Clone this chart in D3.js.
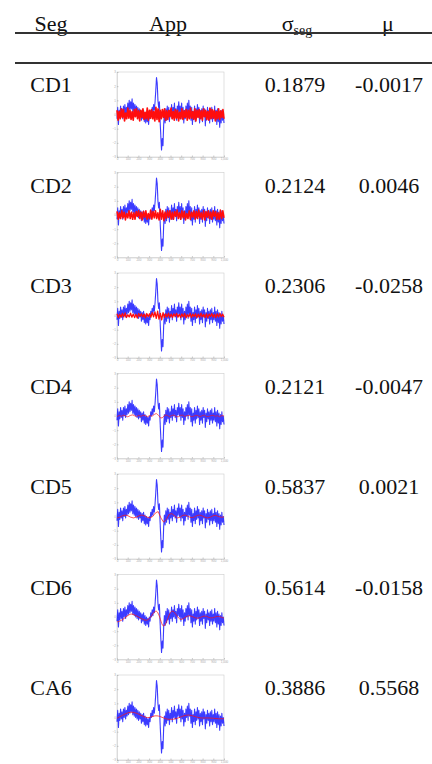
<!DOCTYPE html>
<html>
<head>
<meta charset="utf-8">
<script src="https://cdn.jsdelivr.net/npm/d3@7"></script>
<style>
  body { margin: 0; background: #fff; }
  svg { display: block; }
</style>
</head>
<body>
<div id="chart"></div>
<script>
const segs = ["CD1", "CD2", "CD3", "CD4", "CD5", "CD6", "CA6"];
const sigmas = [0.1879, 0.2124, 0.2306, 0.2121, 0.5837, 0.5614, 0.3886];
const mus = [-0.0017, 0.0046, -0.0258, -0.0047, 0.0021, -0.0158, 0.5568];

// original signal (blue), same in every thumbnail
const signal = [-0.3, 0.5, -0.7, 0.3, -0.2, 0.6, -0.1, 0.4, -0.3, 0.6, 0.0, 0.7, -0.1, 0.5, 0.1,
  0.8, 0.2, 1.0, 0.3, 0.9, 0.4, 1.1, 0.2, 0.8, 0.1, 0.7, 0.0, 0.6, -0.1,
  0.5, -0.2, 0.4, -0.1, 0.3, -0.4, 0.2, -0.3, 0.3, -0.5, 0.1, -0.6, 0.0, -0.5, -0.1, -0.7, 0.0,
  -0.3, 0.3, 0.0, 0.5, 0.1, 0.7, 0.3, 0.9,
  1.7, 2.6, 2.2, 1.0, 0.5, 0.9, -0.4, -1.5, -2.5, -1.7, -2.2, -0.7, 0.1, -0.6,
  0.4, -0.4, 0.6, -0.2, 0.5, -0.5, 0.3, -0.1, 0.7, -0.3,
  0.5, 0.0, 0.8, -0.1, 0.4, -0.4, 0.6, 0.1, 0.9, 0.0,
  0.6, -0.3, 0.8, -0.1, 0.5, -0.6, 0.3, -0.3, 0.6, 0.0,
  0.8, -0.2, 1.0, 0.1, 0.6, -0.4, 0.5, -0.7, 0.2, -0.3,
  0.6, -0.5, 0.4, -0.2, 0.7, -0.1, 0.5, -0.6, 0.3, -0.3,
  0.4, -0.5, 0.6, -0.1, 0.4, -0.8, 0.2, -0.4, 0.5, -0.2,
  0.3, -0.6, 0.4, -0.3, 0.5, -0.5, 0.2, -0.3, 0.6, -0.4,
  0.3, -0.7, 0.4, -0.5, 0.2, -0.9, 0.1, -0.6, 0.3, -0.4,
  0.0, -0.6];

// reconstructed components (red)
const cd1 = [0.3, -0.4, 0.2, -0.3, 0.4, -0.2, 0.35, -0.45, 0.1, -0.3, 0.45, -0.25, 0.3, -0.35, 0.2, -0.4,
  0.35, -0.15, 0.4, -0.3, 0.25, -0.45, 0.3, -0.2, 0.4, -0.35, 0.15, -0.3, 0.45, -0.4, 0.3, -0.25,
  0.35, -0.3, 0.2, -0.45, 0.5, -0.35, 0.4, -0.5, 0.3, -0.3, 0.35, -0.2, 0.4, -0.4, 0.25, -0.35,
  0.3, -0.15, 0.45, -0.3, 0.2, -0.4, 0.35, -0.25, 0.3, -0.45, 0.15, -0.3, 0.4, -0.35, 0.25, -0.2,
  0.35, -0.4, 0.3, -0.3, 0.45, -0.25, 0.2, -0.35, 0.4, -0.45, 0.3, -0.2, 0.35, -0.3, 0.25, -0.4,
  0.4, -0.15, 0.3, -0.35, 0.2, -0.4, 0.45, -0.3, 0.35, -0.25, 0.3, -0.45, 0.2, -0.3, 0.4, -0.35,
  0.25, -0.2, 0.35, -0.3];
const cd2 = [0.25, -0.3, 0.15, -0.25, 0.3, -0.2, 0.2, -0.35, 0.1, -0.2, 0.3, -0.25, 0.2, -0.3, 0.15,
  -0.3, 0.25, -0.1, 0.3, -0.25, 0.2, -0.35, 0.25, -0.15, 0.3, -0.3, 0.1, -0.25, 0.35, -0.3, 0.25,
  -0.2, 0.3, -0.25, 0.15, -0.35, 0.4, -0.3, 0.3, -0.4, 0.2, -0.25, 0.3, -0.15, 0.3, -0.3, 0.2,
  -0.3, 0.25, -0.1, 0.35, -0.25, 0.15, -0.3, 0.3, -0.2, 0.25, -0.35, 0.1, -0.25, 0.3, -0.3, 0.2,
  -0.15, 0.3, -0.3, 0.25, -0.25, 0.35, -0.2, 0.15, -0.3, 0.3, -0.35, 0.25, -0.15, 0.3, -0.25,
  0.2, -0.3, 0.3, -0.1, 0.25, -0.3, 0.15, -0.3, 0.35, -0.25, 0.3, -0.2];
const cd3 = [0.12, -0.15, 0.08, -0.12, 0.15, -0.1, 0.18, -0.14, 0.05, -0.1, 0.16, -0.12, 0.1, -0.15,
  0.08, -0.18, 0.14, -0.06, 0.12, -0.1, 0.1, -0.16, 0.14, -0.08, 0.12, -0.12, 0.2, -0.1, 0.25,
  -0.2, 0.3, -0.25, 0.15, -0.3, 0.2, -0.15, 0.12, -0.1, 0.16, -0.12, 0.1, -0.14, 0.12, -0.06,
  0.15, -0.12, 0.08, -0.15, 0.12, -0.1, 0.14, -0.16, 0.06, -0.1, 0.15, -0.14, 0.1, -0.08, 0.12,
  -0.15, 0.1, -0.12, 0.16, -0.1, 0.08, -0.14, 0.12, -0.16, 0.1, -0.06, 0.14, -0.12, 0.08, -0.15,
  0.12, -0.1, 0.15, -0.08, 0.1, -0.12];
const cd4 = [-0.05, 0.04, -0.02, 0.06, 0.0, -0.06, 0.03, 0.08, 0.02, -0.04, 0.05, -0.03, 0.06, 0.02,
  -0.05, 0.04, -0.02, 0.1, 0.18, 0.05, -0.15, -0.1, 0.08, 0.04, -0.05, 0.03, 0.07, -0.02, -0.06,
  0.04, 0.06, -0.03, 0.02, 0.05, -0.04, -0.02, 0.05, 0.03, -0.05, 0.02, 0.06, -0.03, -0.04, 0.03,
  0.05, -0.02, 0.02, -0.05, 0.03, 0.0];
const cd5 = [-0.1, -0.05, 0.05, 0.1, 0.05, -0.05, -0.1, -0.05, 0.05, 0.1, 0.05, -0.05, -0.1, 0.0,
  0.25, 0.35, -0.1, -0.4, -0.2, 0.15, 0.2, 0.05, -0.1, -0.05, 0.08, 0.1, 0.0, -0.08, -0.05, 0.05,
  0.1, 0.05, -0.05, -0.1, -0.05, 0.05, 0.08, 0.0, -0.06, -0.02];
const cd6 = [-0.35, -0.3, -0.2, -0.05, 0.1, 0.22, 0.2, 0.1, 0.0, -0.1, -0.2, -0.25, -0.15, 0.1, 0.4,
  0.45, 0.0, -0.7, -0.6, -0.1, 0.4, 0.45, 0.2, -0.1, -0.2, -0.1, 0.05, 0.1, 0.05, -0.05, -0.1,
  -0.05, 0.05, 0.08, 0.0, -0.08, -0.05, 0.03, 0.05, -0.02, -0.08];
const ca6 = [-0.05, 0.15, 0.35, 0.4, 0.25, 0.05, -0.05, 0.15, 0.1, -0.1, -0.15, -0.1, 0.05, 0.2,
  0.15, 0.0, -0.05, -0.02, -0.05, -0.1, -0.08];

const components = [cd1, cd2, cd3, cd4, cd5, cd6, ca6];
const redWidths = [1.7, 1.6, 1.3, 0.8, 0.9, 0.9, 0.9];

const width = 432, height = 764;
const font = "'Liberation Serif', 'Times New Roman', serif";
const rowStep = 100.5;
const thumbW = 107, thumbH = 85;

const svg = d3.select("#chart").append("svg")
    .attr("width", width)
    .attr("height", height);

svg.append("defs").append("filter")
    .attr("id", "soft")
    .append("feGaussianBlur")
    .attr("stdDeviation", 0.35);

// header
const header = svg.append("g")
    .attr("font-family", font)
    .attr("font-size", 22)
    .attr("fill", "#111")
    .attr("text-anchor", "middle");

header.append("text").attr("x", 51).attr("y", 31).text("Seg");
header.append("text").attr("x", 168).attr("y", 31).text("App");
const sigHead = header.append("text").attr("x", 297).attr("y", 31);
sigHead.append("tspan").text("σ");
sigHead.append("tspan").attr("font-size", 14).attr("dy", 4).text("seg");
header.append("text").attr("x", 388).attr("y", 31).text("μ");

svg.selectAll("line.rule")
    .data([33, 63])
    .enter().append("line")
    .attr("class", "rule")
    .attr("x1", 15).attr("x2", width)
    .attr("y1", d => d).attr("y2", d => d)
    .attr("stroke", "#333")
    .attr("stroke-width", 1.8);

// thumbnail scales
const x = d3.scaleLinear().domain([0, 1000]).range([0, thumbW]);
const y = d3.scaleLinear().domain([-3, 3]).range([thumbH, 0]);

const rows = svg.selectAll("g.row")
    .data(segs)
    .enter().append("g")
    .attr("class", "row")
    .attr("transform", (d, i) => `translate(0,${i * rowStep})`);

const cells = rows.append("g")
    .attr("font-family", font)
    .attr("font-size", 22)
    .attr("fill", "#111")
    .attr("text-anchor", "middle");

cells.append("text").attr("x", 51).attr("y", 92).text(d => d);
cells.append("text").attr("x", 295).attr("y", 92).text((d, i) => sigmas[i].toFixed(4));
cells.append("text").attr("x", 389).attr("y", 92).text((d, i) => mus[i].toFixed(4));

rows.each(function (d, i) {
    const g = d3.select(this).append("g")
        .attr("transform", "translate(117,72)");

    g.append("rect")
        .attr("width", thumbW).attr("height", thumbH)
        .attr("fill", "#fff")
        .attr("stroke", "#ccc")
        .attr("stroke-width", 0.6);

    const xAxis = g.append("g")
        .attr("transform", `translate(0,${thumbH})`)
        .call(d3.axisBottom(x).ticks(10).tickSizeInner(-1.5).tickSizeOuter(0).tickPadding(1));
    const yAxis = g.append("g")
        .call(d3.axisLeft(y).ticks(6).tickSizeInner(-1.5).tickSizeOuter(0).tickPadding(1));

    [xAxis, yAxis].forEach(a => {
        a.select(".domain").attr("stroke", "#ccc").attr("stroke-width", 0.6);
        a.selectAll(".tick line").attr("stroke", "#999").attr("stroke-width", 0.5);
        a.selectAll(".tick text").attr("font-size", 3).attr("fill", "#aaa").attr("font-family", "sans-serif");
    });

    const plot = g.append("g").attr("filter", "url(#soft)");

    const sx = d3.scaleLinear().domain([0, signal.length - 1]).range([0, thumbW]);
    plot.append("path")
        .datum(signal)
        .attr("fill", "none")
        .attr("stroke", "#1a1aff")
        .attr("stroke-opacity", 0.85)
        .attr("stroke-width", 1.1)
        .attr("stroke-linejoin", "round")
        .attr("d", d3.line().x((v, j) => sx(j)).y(v => y(v)));

    const comp = components[i];
    const cx = d3.scaleLinear().domain([0, comp.length - 1]).range([0, thumbW]);
    const line = d3.line().x((v, j) => cx(j)).y(v => y(v));
    if (i >= 5) line.curve(d3.curveBasis);
    plot.append("path")
        .datum(comp)
        .attr("fill", "none")
        .attr("stroke", "#ff1010")
        .attr("stroke-opacity", i >= 3 ? 0.8 : 1)
        .attr("stroke-width", redWidths[i])
        .attr("stroke-linejoin", "round")
        .attr("d", line);
});
</script>
</body>
</html>
